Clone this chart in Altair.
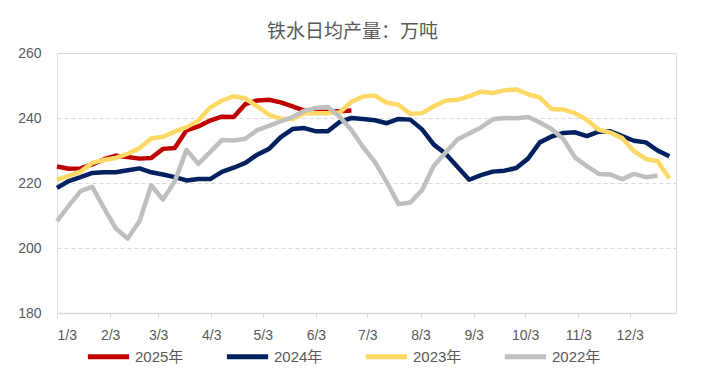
import altair as alt
import pandas as pd

YEAR = 2022
TICK_LABELS = ["1/3", "2/3", "3/3", "4/3", "5/3", "6/3", "7/3", "8/3", "9/3", "10/3", "11/3", "12/3"]
SERIES = ["2025年", "2024年", "2023年", "2022年"]
COLORS = ["#C00000", "#002060", "#FFD966", "#BFBFBF"]

v2025 = [225.1, 224.4, 224.5, 225.7, 227.3, 228.4, 228.0, 227.5, 227.7, 230.5,
         230.8, 236.2, 237.4, 239.2, 240.4, 240.3, 244.3, 245.4, 245.6, 244.8,
         243.6, 242.3, 242.0, 241.9, 242.1, 242.3]
v2024 = [218.5, 220.6, 221.8, 223.1, 223.3, 223.3, 223.9, 224.5, 223.3, 222.6,
         221.8, 220.8, 221.2, 221.2, 223.4, 224.7, 226.2, 228.7, 230.5, 234.1,
         236.6, 236.9, 235.9, 235.9, 238.8, 240.0, 239.7, 239.3, 238.4, 239.7,
         239.5, 236.5, 231.8, 229.0, 225.0, 221.0, 222.4, 223.5, 223.8, 224.6,
         227.5, 232.5, 234.3, 235.4, 235.6, 234.4, 235.8, 235.9, 234.4, 233.0,
         232.5, 230.0, 228.2]
v2023 = [221.0, 222.2, 223.5, 226.2, 227.1, 227.7, 229.0, 230.7, 233.7, 234.2,
         235.8, 237.2, 239.2, 243.2, 245.3, 246.7, 246.0, 243.6, 241.0, 239.7,
         239.7, 241.5, 241.5, 241.5, 241.7, 245.0, 246.6, 246.9, 244.7, 244.1,
         241.3, 241.5, 243.6, 245.3, 245.6, 246.7, 248.1, 247.7, 248.5, 248.8,
         247.3, 246.3, 242.8, 242.6, 241.5, 239.4, 236.4, 235.5, 233.8, 229.8,
         227.4, 226.7, 221.4]
v2022 = [208.3, 213.0, 217.5, 218.8, 212.2, 206.0, 202.9, 208.2, 219.3, 214.9,
         220.5, 230.2, 225.9, 229.5, 233.2, 233.1, 233.6, 236.3, 237.6, 239.0,
         240.3, 242.2, 243.1, 243.4, 240.4, 236.3, 231.0, 226.4, 220.3, 213.5,
         214.0, 217.8, 225.3, 229.4, 233.4, 235.2, 237.1, 239.6, 240.0, 239.9,
         240.3, 238.6, 236.6, 233.5, 227.8, 225.2, 222.8, 222.6, 221.2, 222.8,
         221.8, 222.2]

start = pd.Timestamp(f"{YEAR}-01-03")
step_days = 364 / 53  # 53 weekly samples spread over the year axis

rows = []
for name, vals in zip(SERIES, [v2025, v2024, v2023, v2022]):
    for i, v in enumerate(vals):
        d = (start + pd.to_timedelta(i * step_days, unit="D")).round("min")
        rows.append({"date": d.strftime("%Y-%m-%dT%H:%M:00"), "value": v, "series": name})
df = pd.DataFrame(rows)

tick_dates = []
for lab in TICK_LABELS:
    m, d = lab.split("/")
    tick_dates.append(alt.DateTime(year=YEAR, month=int(m), date=int(d)))

FONT = "Liberation Sans, Noto Sans CJK SC"

chart = alt.Chart(df).mark_line(strokeWidth=4.5, strokeJoin="round", strokeCap="butt").encode(
    x=alt.X("date:T",
            scale=alt.Scale(domain=[alt.DateTime(year=YEAR, month=1, date=3),
                                    alt.DateTime(year=YEAR, month=12, date=30)]),
            axis=alt.Axis(values=tick_dates, format="%-m/%-d", title=None, grid=False,
                          domainColor="#D9D9D9", domainWidth=1.5, tickColor="#D9D9D9",
                          tickSize=5, labelFontSize=14, labelColor="#595959", labelFont=FONT,
                          labelPadding=10)),
    y=alt.Y("value:Q",
            scale=alt.Scale(domain=[180, 260], nice=False, zero=False),
            axis=alt.Axis(values=[180, 200, 220, 240, 260], title=None, domain=False, ticks=False,
                          gridColor="#D9D9D9", gridDash=[4, 3], gridWidth=1,
                          labelFontSize=14, labelColor="#595959", labelFont=FONT, labelPadding=16)),
    color=alt.Color("series:N", sort=SERIES,
                    scale=alt.Scale(domain=SERIES, range=COLORS),
                    legend=alt.Legend(orient="none", legendX=28, legendY=280, direction="horizontal",
                                      title=None, symbolType="stroke", symbolStrokeWidth=5,
                                      symbolSize=1700, labelFontSize=15, labelColor="#595959",
                                      labelFont=FONT, columnPadding=32, labelOffset=3)),
    opacity=alt.Opacity("series:N", sort=SERIES,
                        scale=alt.Scale(domain=SERIES, range=[1, 1, 0.85, 0.85]), legend=None),
).properties(
    width=619,
    height=260,
    title=alt.TitleParams("铁水日均产量：万吨", fontSize=19, font="Noto Sans CJK SC",
                          fontWeight="normal", color="#595959", anchor="middle", offset=4, dx=-14),
    autosize=alt.AutoSizeParams(type="none"),
    padding={"left": 49, "top": 45, "right": 21, "bottom": 60},
).configure_view(stroke=None).configure(background="white")

chart.save("out.html", embed_options={"renderer": "svg", "actions": False})
